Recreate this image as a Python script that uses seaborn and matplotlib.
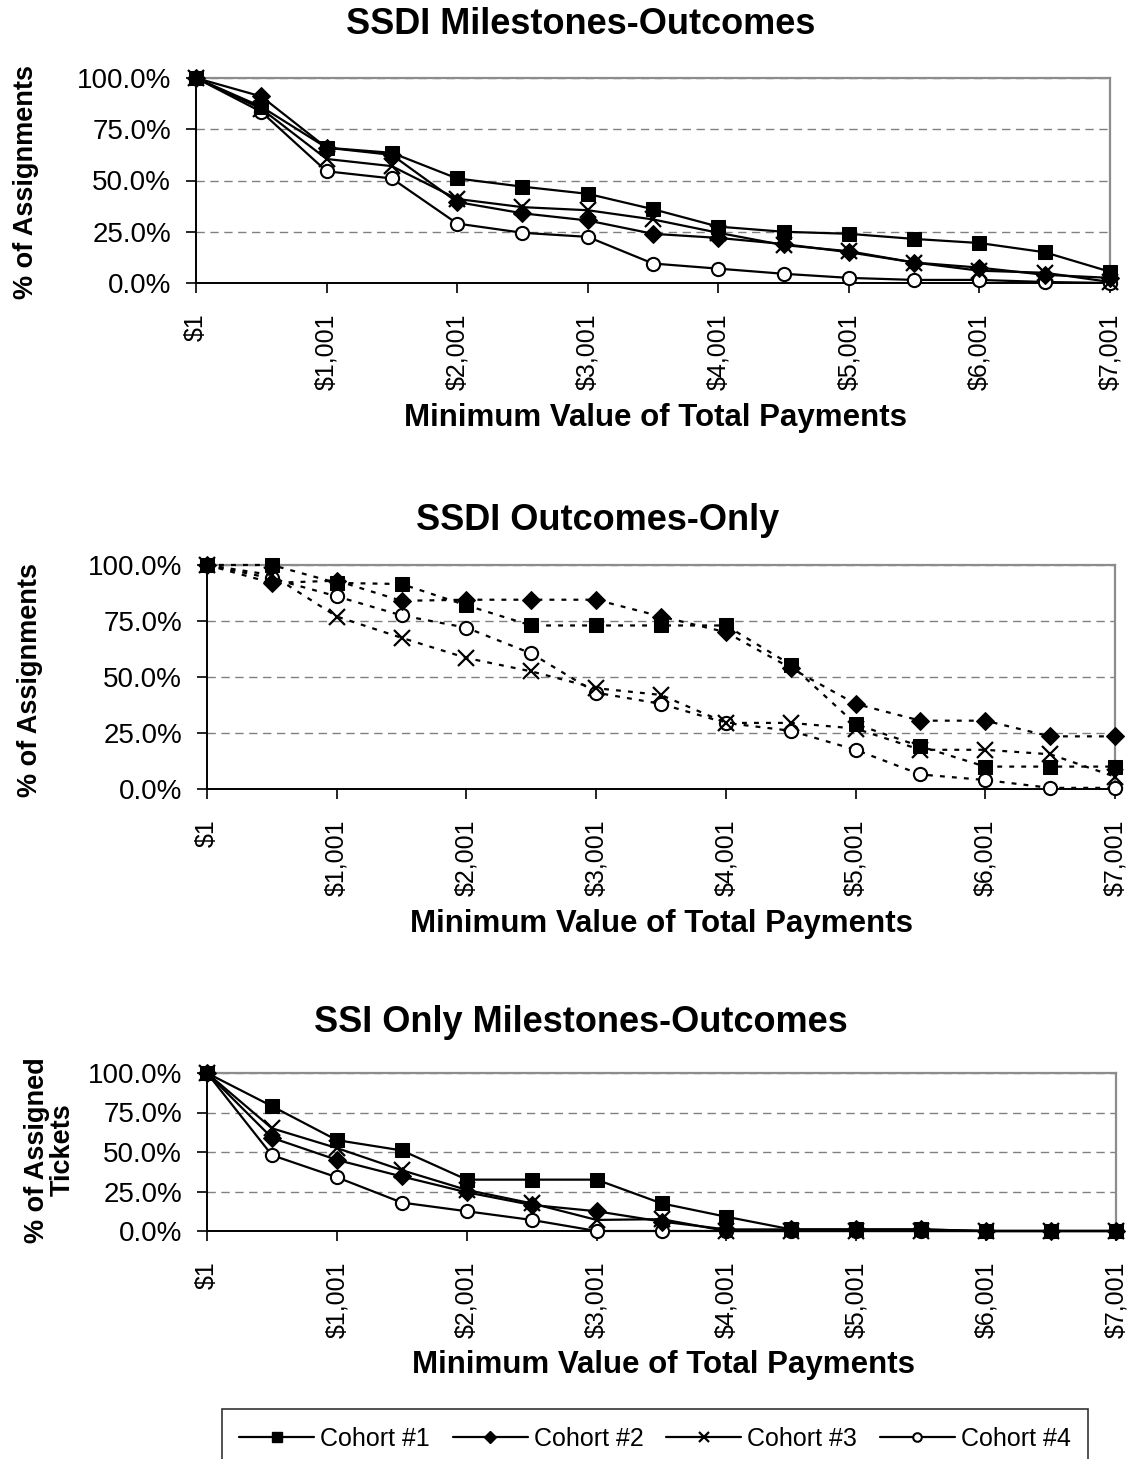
import numpy as np
import pandas as pd
import seaborn as sns
import matplotlib
matplotlib.use("Agg")
import matplotlib.pyplot as plt
from matplotlib.lines import Line2D

# ---------------- data ----------------
payment_levels = ["$1", "$501", "$1,001", "$1,501", "$2,001", "$2,501", "$3,001", "$3,501",
                  "$4,001", "$4,501", "$5,001", "$5,501", "$6,001", "$6,501", "$7,001"]
cohorts = ["Cohort #1", "Cohort #2", "Cohort #3", "Cohort #4"]

# SSDI Milestones-Outcomes (% of assignments)
ssdi_mo_c1 = [100, 86, 66, 63.5, 51, 47, 43.5, 36, 27.5, 25, 24, 21.5, 19.5, 15, 5.5]
ssdi_mo_c2 = [100, 91, 66, 62.5, 39.5, 34, 30.5, 24, 22, 19, 15, 10, 7.5, 4, 2.5]
ssdi_mo_c3 = [100, 85, 60.5, 57, 41, 37, 35.5, 31, 24.5, 18.5, 15.5, 10, 6, 5, 0.5]
ssdi_mo_c4 = [100, 83.5, 54.5, 51, 29, 24.5, 22.5, 9.5, 7, 4.5, 2.5, 1.5, 1.5, 0.5, 0]

# SSDI Outcomes-Only (% of assignments)
ssdi_oo_c1 = [100, 100, 92, 91.5, 82, 73, 73, 73, 73, 55.5, 29, 19, 10, 10, 10]
ssdi_oo_c2 = [100, 92, 93, 84, 84.5, 84.5, 84.5, 77, 70, 54, 38, 30.5, 30.5, 23.5, 23.5]
ssdi_oo_c3 = [100, 95.5, 77, 67.5, 58.5, 52.5, 45, 42, 29.5, 29.5, 27, 17.5, 17.5, 15.5, 5.5]
ssdi_oo_c4 = [100, 94, 86, 77.5, 72, 60.5, 43, 38, 29.5, 26, 17.5, 6.5, 4, 0.5, 0.5]

# SSI Only Milestones-Outcomes (% of assigned tickets)
ssi_mo_c1 = [100, 79, 57.5, 51, 32.5, 32.5, 32.5, 17.5, 9, 1, 1, 1, 0, 0, 0]
ssi_mo_c2 = [100, 59, 45, 34.5, 24.5, 16.5, 12.5, 6, 1, 1, 1, 1, 0, 0, 0]
ssi_mo_c3 = [100, 65, 52.5, 38.5, 26, 17.5, 7, 7.5, 0, 0, 0, 0, 0, 0, 0]
ssi_mo_c4 = [100, 48, 34, 18, 12.5, 7, 0, 0, 0, 0, 0, 0, 0, 0, 0]

panel_titles = ["SSDI Milestones-Outcomes", "SSDI Outcomes-Only", "SSI Only Milestones-Outcomes"]
panel_ylabels = ["% of Assignments", "% of Assignments", "% of Assigned\nTickets"]
x_title = "Minimum Value of Total Payments"
y_ticks = [0, 25, 50, 75, 100]
y_tick_labels = ["0.0%", "25.0%", "50.0%", "75.0%", "100.0%"]

panels = [
    [ssdi_mo_c1, ssdi_mo_c2, ssdi_mo_c3, ssdi_mo_c4],
    [ssdi_oo_c1, ssdi_oo_c2, ssdi_oo_c3, ssdi_oo_c4],
    [ssi_mo_c1, ssi_mo_c2, ssi_mo_c3, ssi_mo_c4],
]

# ---------------- style ----------------
sns.set_theme(style="white")
plt.rcParams['font.family'] = ['Liberation Sans', 'DejaVu Sans']
plt.rcParams['text.color'] = 'black'
plt.rcParams['axes.labelcolor'] = 'black'
plt.rcParams['xtick.color'] = 'black'
plt.rcParams['ytick.color'] = 'black'

W, H = 1132, 1459
fig = plt.figure(figsize=(W / 100, H / 100), dpi=100)
fig.patch.set_facecolor("white")

def fx(px):
    return px / W

def fy(py):
    return 1 - py / H

# pixel boxes: left, right, top, bottom
boxes = [(196, 1110, 78, 283), (207, 1115, 565, 789), (207, 1116, 1073, 1231)]
title_pos = [(581, 25), (598, 520), (581, 1022)]
xlabel_pos = [(655, 418), (661, 924), (664, 1365)]
ylabel_pos = [(26, 182), (30, 680), (50, 1150)]

marker_styles = [
    dict(marker="s", markersize=10, markerfacecolor="black", markeredgecolor="black"),
    dict(marker="D", markersize=9.5, markerfacecolor="black", markeredgecolor="black"),
    dict(marker="x", markersize=11, markeredgewidth=1.6, markeredgecolor="black"),
    dict(marker="o", markersize=9.5, markerfacecolor="white", markeredgecolor="black", markeredgewidth=1.5),
]

xpos = np.arange(len(payment_levels))

for p, (series_list, box) in enumerate(zip(panels, boxes)):
    l, r, t, b = box
    ax = fig.add_axes([fx(l), fy(b), fx(r) - fx(l), fy(t) - fy(b)])
    ax.set_facecolor("white")
    ls = (0, (2.2, 3.2)) if p == 1 else "-"
    for ci, (name, vals) in enumerate(zip(cohorts, series_list)):
        df = pd.DataFrame({"x": xpos, "y": vals})
        sns.lineplot(data=df, x="x", y="y", ax=ax, color="black", linewidth=1.6,
                     linestyle=ls, clip_on=False, zorder=10 - ci, **marker_styles[ci])
    ax.set_xlim(0, len(payment_levels) - 1)
    ax.set_ylim(0, 100)
    ax.set_xticks(xpos[::2])
    ax.set_xticklabels(payment_levels[::2], rotation=90, fontsize=18)
    ax.set_yticks(y_ticks)
    ax.set_yticklabels(y_tick_labels, fontsize=20)
    ax.set_xlabel("")
    ax.set_ylabel("")
    ax.yaxis.grid(True, linestyle=(0, (6, 4)), color="#808080", linewidth=1.0)
    ax.xaxis.grid(False)
    ax.set_axisbelow(True)
    for side in ["top", "right"]:
        ax.spines[side].set_color("#8c8c8c")
        ax.spines[side].set_linewidth(1.6)
    for side in ["left", "bottom"]:
        ax.spines[side].set_color("black")
        ax.spines[side].set_linewidth(1.4)
    ax.tick_params(axis="both", which="major", direction="out", length=7, width=1.2,
                   color="black", left=True, bottom=True)
    ax.tick_params(axis="x", pad=15)
    ax.tick_params(axis="y", pad=11)

    tx, ty = title_pos[p]
    fig.text(fx(tx), fy(ty), panel_titles[p], ha="center", va="center",
             fontsize=26, fontweight="bold")
    xx, xy = xlabel_pos[p]
    fig.text(fx(xx), fy(xy), x_title, ha="center", va="center",
             fontsize=22.5, fontweight="bold")
    yx, yy = ylabel_pos[p]
    fig.text(fx(yx), fy(yy), panel_ylabels[p], ha="center", va="center",
             rotation=90, fontsize=19.5, fontweight="bold", linespacing=1.0)

# legend
handles = []
for ci, name in enumerate(cohorts):
    st = dict(marker_styles[ci])
    st["markersize"] = st["markersize"] * 0.65
    handles.append(Line2D([], [], color="black", linewidth=1.6, label=name, **st))
leg = fig.legend(handles=handles, labels=cohorts, loc="upper center", ncol=4,
                 bbox_to_anchor=(fx(655), fy(1409)), borderaxespad=0, fontsize=18,
                 frameon=True, fancybox=False, edgecolor="black", handlelength=3.0,
                 handletextpad=0.25, columnspacing=0.9, borderpad=0.7)
leg.get_frame().set_linewidth(1.2)

fig.savefig("out.png", dpi=100, facecolor="white")
